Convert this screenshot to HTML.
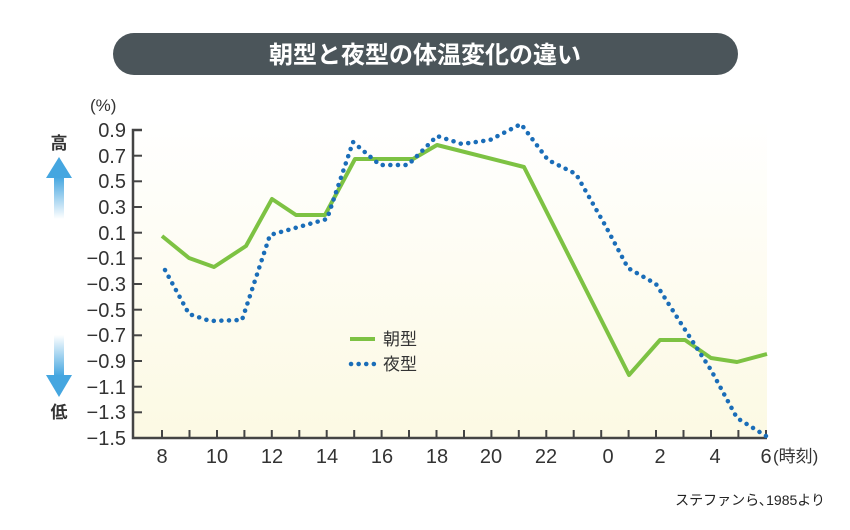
<!DOCTYPE html>
<html><head><meta charset="utf-8"><style>
body{margin:0;width:850px;height:525px;background:#fff;overflow:hidden;font-family:"Liberation Sans","Noto Sans CJK JP",sans-serif}
</style></head><body>
<svg width="850" height="525" xmlns="http://www.w3.org/2000/svg" font-family="Liberation Sans, Noto Sans CJK JP, sans-serif">
<defs>
<linearGradient id="bg" x1="0" y1="0" x2="0" y2="1"><stop offset="0" stop-color="#fff"/><stop offset="1" stop-color="#fcf9e3"/></linearGradient>
<linearGradient id="au" x1="0" y1="0" x2="0" y2="1"><stop offset="0" stop-color="#45a6e0"/><stop offset="1" stop-color="#45a6e0" stop-opacity="0"/></linearGradient>
<linearGradient id="ad" x1="0" y1="1" x2="0" y2="0"><stop offset="0" stop-color="#45a6e0"/><stop offset="1" stop-color="#45a6e0" stop-opacity="0"/></linearGradient>
</defs>
<rect x="113" y="33" width="625" height="42" rx="21" fill="#4b555a"/>
<text x="425" y="63" text-anchor="middle" font-size="24" font-weight="bold" fill="#fff">朝型と夜型の体温変化の違い</text>
<rect x="134" y="120" width="633" height="318" fill="url(#bg)"/>
<text x="90" y="111" font-size="17" fill="#333">(%)</text>
<g stroke="#444" stroke-width="2.5" fill="none">
<polyline points="142,130 133,130 133,438 767,438"/>
</g>
<g stroke="#444" stroke-width="2">
<line x1="133" y1="155.7" x2="142" y2="155.7"/><line x1="133" y1="181.3" x2="142" y2="181.3"/><line x1="133" y1="207" x2="142" y2="207"/><line x1="133" y1="232.7" x2="142" y2="232.7"/><line x1="133" y1="258.3" x2="142" y2="258.3"/><line x1="133" y1="284" x2="142" y2="284"/><line x1="133" y1="309.7" x2="142" y2="309.7"/><line x1="133" y1="335.3" x2="142" y2="335.3"/><line x1="133" y1="361" x2="142" y2="361"/><line x1="133" y1="386.7" x2="142" y2="386.7"/><line x1="133" y1="412.3" x2="142" y2="412.3"/>
</g>
<g font-size="20" fill="#333" text-anchor="end">
<text x="126" y="137">0.9</text><text x="126" y="163">0.7</text><text x="126" y="188">0.5</text><text x="126" y="214">0.3</text><text x="126" y="240">0.1</text><text x="126" y="265">−0.1</text><text x="126" y="291">−0.3</text><text x="126" y="317">−0.5</text><text x="126" y="342">−0.7</text><text x="126" y="368">−0.9</text><text x="126" y="394">−1.1</text><text x="126" y="419">−1.3</text><text x="126" y="445">−1.5</text>
</g>
<g stroke="#444" stroke-width="2">
<line x1="162" y1="430" x2="162" y2="438"/><line x1="189.5" y1="430" x2="189.5" y2="438"/><line x1="217" y1="430" x2="217" y2="438"/><line x1="244.4" y1="430" x2="244.4" y2="438"/><line x1="271.8" y1="430" x2="271.8" y2="438"/><line x1="299.3" y1="430" x2="299.3" y2="438"/><line x1="326.7" y1="430" x2="326.7" y2="438"/><line x1="354.2" y1="430" x2="354.2" y2="438"/><line x1="381.6" y1="430" x2="381.6" y2="438"/><line x1="409" y1="430" x2="409" y2="438"/><line x1="436.5" y1="430" x2="436.5" y2="438"/><line x1="464" y1="430" x2="464" y2="438"/><line x1="491.4" y1="430" x2="491.4" y2="438"/><line x1="518.8" y1="430" x2="518.8" y2="438"/><line x1="546.3" y1="430" x2="546.3" y2="438"/><line x1="573.7" y1="430" x2="573.7" y2="438"/><line x1="601.2" y1="430" x2="601.2" y2="438"/><line x1="628.6" y1="430" x2="628.6" y2="438"/><line x1="656" y1="430" x2="656" y2="438"/><line x1="683.5" y1="430" x2="683.5" y2="438"/><line x1="711" y1="430" x2="711" y2="438"/><line x1="738.4" y1="430" x2="738.4" y2="438"/><line x1="766" y1="430" x2="766" y2="438"/>
</g>
<g font-size="20" fill="#333" text-anchor="middle">
<text x="162" y="463">8</text><text x="217" y="463">10</text><text x="272" y="463">12</text><text x="327" y="463">14</text><text x="382" y="463">16</text><text x="437" y="463">18</text><text x="491" y="463">20</text><text x="546" y="463">22</text><text x="608" y="463">0</text><text x="660" y="463">2</text><text x="715" y="463">4</text><text x="766" y="463">6</text>
</g>
<text x="773" y="462" font-size="17" fill="#333">(時刻)</text>
<polyline fill="none" stroke="#7dc243" stroke-width="4" stroke-linejoin="round" points="162,236 189,258 214,267 246,246 272,199 296,215 325,215 355,159 383,159 413,159 437,145 524,167 629,375 660,340 685,340 711,358 737,362 767,354"/>
<polyline fill="none" stroke="#1a6db8" stroke-width="4.5" stroke-dasharray="0.1,7.5" stroke-linecap="round" stroke-linejoin="round" points="165,270 189,314 210,321 242,320 270,235 295,228 327,219 353,142 380,165 408,165 437,136 462,144 490,140 521,124 548,160 576,174 605,225 628,268 656,284 682,325 711,370 737,418 766,436"/>
<line x1="350" y1="339" x2="375" y2="339" stroke="#7dc243" stroke-width="4"/>
<text x="383" y="345" font-size="17" fill="#333">朝型</text>
<line x1="351" y1="364" x2="375" y2="364" stroke="#1a6db8" stroke-width="4.5" stroke-dasharray="0.1,7.5" stroke-linecap="round"/>
<text x="383" y="370" font-size="17" fill="#333">夜型</text>
<text x="59" y="149" font-size="17" fill="#333" text-anchor="middle" font-weight="bold">高</text>
<polygon points="59,157 46,178 72,178" fill="#45a6e0"/>
<rect x="54" y="177" width="10" height="42" fill="url(#au)"/>
<rect x="54" y="335" width="10" height="41" fill="url(#ad)"/>
<polygon points="59,397 46,375 72,375" fill="#45a6e0"/>
<text x="59" y="418" font-size="17" fill="#333" text-anchor="middle" font-weight="bold">低</text>
<text x="825" y="505" font-size="14" fill="#222" text-anchor="end">ステファンら､1985より</text>
</svg>
</body></html>
